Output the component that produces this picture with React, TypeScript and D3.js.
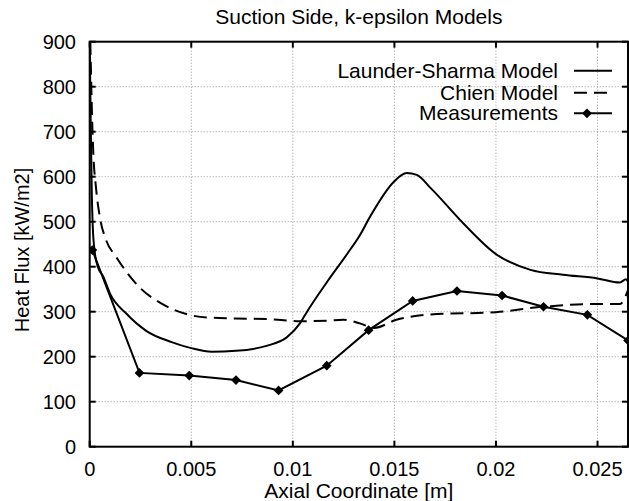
import React, { useRef, useEffect } from "react";
import * as d3 from "d3";

// Launder-Sharma model (solid), [axial coordinate m, heat flux kW/m2]
const launderSharma: [number, number][] = [
  [0, 900], [0.00005, 720], [0.0001, 570], [0.00015, 490], [0.00025, 432],
  [0.0004, 400], [0.00067, 378], [0.001, 340], [0.0018, 296], [0.0028, 257],
  [0.004, 233], [0.005, 219], [0.006, 211], [0.0072, 213], [0.0087, 224],
  [0.0097, 243], [0.01035, 274], [0.0107, 300], [0.0117, 367], [0.0127, 430],
  [0.0133, 470], [0.0138, 511], [0.015, 590], [0.0156, 608], [0.0161, 604],
  [0.0168, 574], [0.0184, 496], [0.02, 428], [0.0217, 393], [0.0233, 382],
  [0.025, 374], [0.0261, 365], [0.0264, 372], [0.0265, 366],
];

// Chien model (dashed)
const chien: [number, number][] = [
  [0.00003, 900], [0.00006, 840], [0.0001, 760], [0.00018, 650], [0.0003, 580],
  [0.0005, 510], [0.0008, 460], [0.0013, 422], [0.0025, 352], [0.0035, 319],
  [0.0049, 293], [0.0058, 287], [0.0072, 285], [0.009, 283], [0.0104, 279],
  [0.0117, 280], [0.0125, 282], [0.0133, 274], [0.014, 264], [0.0151, 282],
  [0.0168, 294], [0.02, 299], [0.0223, 311], [0.025, 317], [0.0261, 317],
  [0.0265, 348],
];

// measured heat flux (diamonds)
const measurements: [number, number][] = [
  [0.00013, 437], [0.00245, 164], [0.0049, 158], [0.0072, 148], [0.0093, 125],
  [0.01167, 180], [0.01373, 259], [0.0159, 324], [0.01808, 346], [0.0203, 336],
  [0.02234, 311], [0.0245, 293], [0.0265, 236],
];

const xTicks = [0, 0.005, 0.01, 0.015, 0.02, 0.025];
const yTicks = [0, 100, 200, 300, 400, 500, 600, 700, 800, 900];
const legendLabels = ["Launder-Sharma Model", "Chien Model", "Measurements"];

const W = 629, H = 501;
const FONT = "'Liberation Sans', Arial, Helvetica, sans-serif";

export default function App() {
  const svgRef = useRef<SVGSVGElement>(null);

  useEffect(() => {
    const svg = d3.select(svgRef.current);
    svg.selectAll("*").remove();

    const left = 89.7, right = 628, top = 41.7, bottom = 446.7;
    const x = d3.scaleLinear().domain([0, 0.0265]).range([left, right]);
    const y = d3.scaleLinear().domain([0, 900]).range([bottom, top]);

    svg.append("defs").append("clipPath").attr("id", "plotClip")
      .append("rect").attr("x", left).attr("y", top)
      .attr("width", right - left).attr("height", bottom - top);

    // grid
    const grid = svg.append("g").attr("stroke", "#999").attr("stroke-width", 1)
      .attr("stroke-dasharray", "1,2");
    grid.selectAll(".gx").data(xTicks.slice(1)).join("line")
      .attr("x1", d => x(d)).attr("x2", d => x(d)).attr("y1", top).attr("y2", bottom);
    grid.selectAll(".gy").data(yTicks.slice(1)).join("line")
      .attr("x1", left).attr("x2", right).attr("y1", d => y(d)).attr("y2", d => y(d));

    // ticks, inward on all sides
    const ticks = svg.append("g").attr("stroke", "#000").attr("stroke-width", 2);
    xTicks.forEach(t => {
      ticks.append("line").attr("x1", x(t)).attr("x2", x(t)).attr("y1", bottom).attr("y2", bottom - 6);
      ticks.append("line").attr("x1", x(t)).attr("x2", x(t)).attr("y1", top).attr("y2", top + 6);
    });
    yTicks.forEach(t => {
      ticks.append("line").attr("x1", left).attr("x2", left + 6).attr("y1", y(t)).attr("y2", y(t));
      ticks.append("line").attr("x1", right).attr("x2", right - 6).attr("y1", y(t)).attr("y2", y(t));
    });

    // tick labels
    const lab = svg.append("g").attr("font-family", FONT).attr("font-size", 20).attr("fill", "#000");
    lab.selectAll(".xl").data(xTicks).join("text")
      .attr("x", d => x(d)).attr("y", 476).attr("text-anchor", "middle")
      .text(d => String(+d.toFixed(3)));
    lab.selectAll(".yl").data(yTicks).join("text")
      .attr("x", 76).attr("y", d => y(d) + 7).attr("text-anchor", "end")
      .text(d => String(d));

    // titles
    svg.append("text").attr("x", (left + right) / 2).attr("y", 24)
      .attr("text-anchor", "middle").attr("font-family", FONT).attr("font-size", 21)
      .text("Suction Side, k-epsilon Models");
    svg.append("text").attr("x", (left + right) / 2).attr("y", 498)
      .attr("text-anchor", "middle").attr("font-family", FONT).attr("font-size", 21)
      .text("Axial Coordinate [m]");
    svg.append("text").attr("transform", "translate(29,250) rotate(-90)")
      .attr("text-anchor", "middle").attr("font-family", FONT).attr("font-size", 20)
      .text("Heat Flux [kW/m2]");

    // series
    const line = d3.line<[number, number]>().x(d => x(d[0])).y(d => y(d[1]));
    const smooth = d3.line<[number, number]>().x(d => x(d[0])).y(d => y(d[1])).curve(d3.curveMonotoneX);
    const plot = svg.append("g").attr("clip-path", "url(#plotClip)");
    plot.append("path").attr("d", smooth(launderSharma)).attr("fill", "none")
      .attr("stroke", "#000").attr("stroke-width", 2);
    plot.append("path").attr("d", smooth(chien)).attr("fill", "none")
      .attr("stroke", "#000").attr("stroke-width", 2).attr("stroke-dasharray", "13,7");
    plot.append("path").attr("d", line(measurements)).attr("fill", "none")
      .attr("stroke", "#000").attr("stroke-width", 2);
    const diamond = d3.symbol().type(d3.symbolDiamond2).size(60);
    plot.selectAll(".pt").data(measurements).join("path")
      .attr("d", diamond()).attr("fill", "#000")
      .attr("transform", d => `translate(${x(d[0])},${y(d[1])})`);

    // legend
    const rows = [70.7, 92.7, 113.3];
    const leg = svg.append("g").attr("font-family", FONT).attr("font-size", 21);
    leg.selectAll("text").data(legendLabels).join("text")
      .attr("x", 558).attr("y", (d, i) => rows[i] + 7).attr("text-anchor", "end")
      .text(d => d);
    leg.append("line").attr("x1", 574).attr("x2", 612).attr("y1", rows[0]).attr("y2", rows[0])
      .attr("stroke", "#000").attr("stroke-width", 2);
    leg.append("line").attr("x1", 574).attr("x2", 612).attr("y1", rows[1]).attr("y2", rows[1])
      .attr("stroke", "#000").attr("stroke-width", 2).attr("stroke-dasharray", "13,7");
    leg.append("line").attr("x1", 574).attr("x2", 612).attr("y1", rows[2]).attr("y2", rows[2])
      .attr("stroke", "#000").attr("stroke-width", 2);
    leg.append("path").attr("d", diamond()).attr("fill", "#000")
      .attr("transform", `translate(587,${rows[2]})`);

    // frame
    svg.append("rect").attr("x", left).attr("y", top).attr("width", right - left)
      .attr("height", bottom - top).attr("fill", "none").attr("stroke", "#000").attr("stroke-width", 2);
  }, []);

  return (
    <div style={{ position: "absolute", left: 0, top: 0, background: "#fff" }}>
      <svg ref={svgRef} width={W} height={H} style={{ display: "block" }} />
    </div>
  );
}
